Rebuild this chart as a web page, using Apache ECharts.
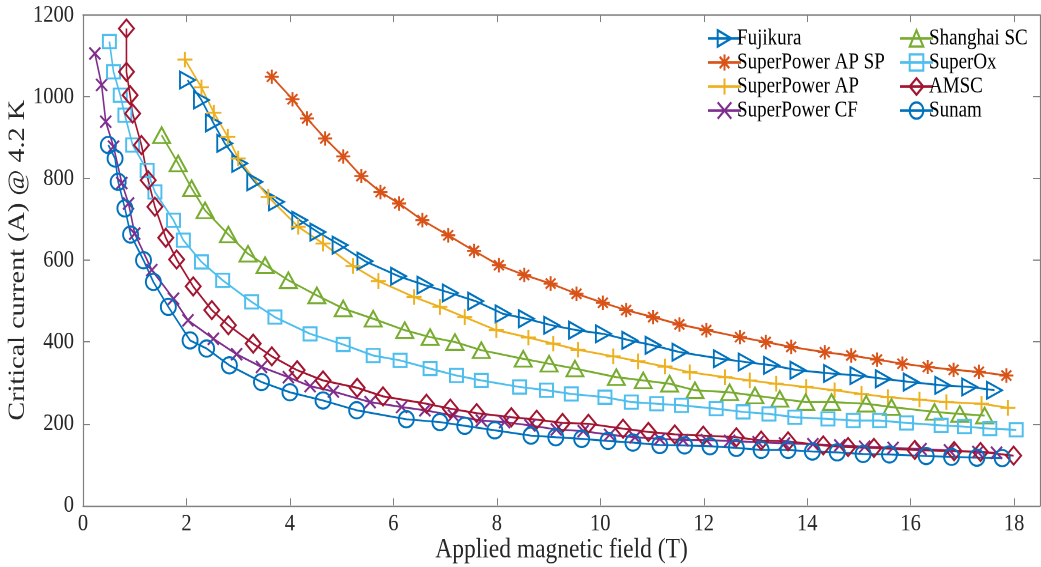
<!DOCTYPE html>
<html>
<head>
<meta charset="utf-8">
<script src="https://cdn.jsdelivr.net/npm/echarts@6/dist/echarts.min.js"></script>
<style>
  html, body { margin: 0; padding: 0; background: #fff; width: 1041px; height: 567px; }
  /* the original figure is stretched vertically by ~1.2, so draw at 1/1.2 height and scale up */
  #chart { width: 1041px; height: 472.5px; transform: scaleY(1.2); transform-origin: 0 0; }
</style>
</head>
<body>
<div id="chart"></div>
<script>
// data: [field (T), Ic (A)]
var fujikura = [[2.02,1041],[2.29,992],[2.52,936],[2.74,886],[3.03,837],[3.32,792],[3.74,743],[4.19,698],[4.54,669],[4.97,637],[5.45,598],[6.1,561],[6.61,539],[7.1,520],[7.59,500],[8.12,469],[8.57,457],[9.06,441],[9.54,429],[10.06,420],[10.57,404],[11.02,392],[11.54,375],[12.34,359],[12.82,351],[13.31,343],[13.82,331],[14.47,323],[14.98,318],[15.47,310],[16.01,302],[16.62,294],[17.14,290],[17.62,282]];
var apsp = [[3.65,1049],[4.05,994],[4.33,947],[4.68,898],[5.03,854],[5.38,806],[5.75,767],[6.11,739],[6.56,698],[7.06,661],[7.56,623],[8.04,588],[8.53,564],[9.04,543],[9.54,518],[10.05,496],[10.5,478],[11.02,461],[11.53,443],[12.05,429],[12.7,412],[13.2,400],[13.69,388],[14.34,375],[14.85,367],[15.35,357],[15.84,347],[16.33,339],[16.83,332],[17.32,327],[17.85,318]];
var ap = [[1.97,1091],[2.29,1023],[2.53,961],[2.8,902],[3.0,849],[3.58,755],[4.16,682],[4.64,641],[5.22,586],[5.71,549],[6.4,510],[6.9,486],[7.38,461],[7.99,429],[8.61,411],[9.09,396],[9.57,381],[10.25,365],[10.73,353],[11.25,340],[11.73,326],[12.41,314],[12.89,306],[13.4,298],[13.98,290],[14.53,282],[15.05,273],[15.56,265],[16.17,259],[16.69,253],[17.37,249],[17.88,239]];
var cf = [[0.23,1106],[0.36,1029],[0.44,939],[0.59,878],[0.75,789],[0.88,739],[1.0,665],[1.33,576],[1.75,506],[2.03,453],[2.52,408],[2.97,370],[3.45,339],[3.97,314],[4.39,292],[4.84,279],[5.55,253],[6.16,241],[6.61,233],[7.16,220],[7.7,208],[8.15,204],[8.64,196],[9.15,186],[9.67,182],[10.18,173],[10.67,167],[11.15,163],[11.6,160],[12.05,160],[12.5,158],[13.05,155],[13.56,152],[14.11,150],[14.63,147],[15.11,144],[15.66,141],[16.2,138],[16.75,135],[17.3,131],[17.66,129]];
var shanghai = [[1.52,906],[1.84,837],[2.1,776],[2.36,722],[2.81,663],[3.19,616],[3.52,588],[3.97,551],[4.52,514],[5.03,482],[5.61,457],[6.22,429],[6.71,412],[7.19,400],[7.7,380],[8.51,359],[9.01,347],[9.51,335],[10.31,314],[10.83,306],[11.34,298],[11.83,282],[12.5,277],[12.99,269],[13.47,261],[13.97,253],[14.47,253],[15.14,249],[15.63,241],[16.46,229],[16.95,224],[17.43,220]];
var superox = [[0.51,1135],[0.59,1061],[0.72,1004],[0.81,955],[0.96,882],[1.24,820],[1.39,767],[1.75,698],[1.94,649],[2.29,596],[2.7,551],[3.26,498],[3.71,461],[4.39,420],[5.03,394],[5.61,367],[6.13,355],[6.71,335],[7.22,318],[7.7,306],[8.44,290],[8.96,282],[9.44,273],[10.09,265],[10.6,253],[11.09,249],[11.57,245],[12.24,237],[12.76,229],[13.26,224],[13.76,216],[14.4,212],[14.89,208],[15.4,208],[15.92,202],[16.59,196],[17.04,193],[17.53,188],[18.04,185]];
var amsc = [[0.84,1167],[0.84,1061],[0.91,1004],[0.96,959],[1.13,882],[1.26,796],[1.39,731],[1.6,655],[1.81,602],[2.13,536],[2.49,478],[2.81,441],[3.29,396],[3.65,365],[4.14,331],[4.64,306],[5.3,288],[5.8,267],[6.64,249],[7.1,237],[7.61,226],[8.28,216],[8.77,210],[9.27,202],[9.77,200],[10.44,188],[10.93,180],[11.44,174],[11.99,171],[12.63,167],[13.11,159],[13.63,157],[14.31,147],[14.79,143],[15.29,141],[16.08,136],[16.84,133],[17.35,131],[17.99,122]];
var sunam = [[0.49,882],[0.62,849],[0.68,792],[0.81,727],[0.92,663],[1.17,600],[1.36,547],[1.65,486],[2.07,404],[2.39,384],[2.83,343],[3.45,302],[4.0,277],[4.64,257],[5.29,233],[6.25,211],[6.9,204],[7.38,195],[7.96,184],[8.66,171],[9.14,167],[9.64,163],[10.15,158],[10.63,154],[11.15,148],[11.63,147],[12.12,145],[12.63,141],[13.11,136],[13.63,136],[14.1,132],[14.58,130],[15.08,126],[15.59,125],[16.3,121],[16.79,119],[17.28,117],[17.77,116]];

var xTicks = [0, 2, 4, 6, 8, 10, 12, 14, 16, 18];

var font = 'Liberation Serif';
var axisGray = '#808080';
var textDark = '#262626';

var SYM = {
  triRight: 'path://M0,0L10,5L0,10Z',
  triUp: 'path://M5,0L10,9L0,9Z',
  diamond: 'path://M5,0L10,7L5,14L0,7Z',
  square: 'path://M0,0L10,0L10,10L0,10Z',
  plus: 'path://M5,0L5,10M0,5L10,5',
  cross: 'path://M0,0L10,10M10,0L0,10',
  star: 'path://M5,0L5,10M0,5L10,5M1.5,1.5L8.5,8.5M8.5,1.5L1.5,8.5'
};

function makeSeries(name, data, color, symbol, size) {
  return {
    name: name,
    type: 'line',
    data: data,
    color: color,
    symbol: symbol,
    symbolSize: size,
    showAllSymbol: true,
    lineStyle: { color: color, width: 1.6 },
    itemStyle: { color: 'rgba(0,0,0,0)', borderColor: color, borderWidth: 1.8 },
    emphasis: { disabled: true },
    animation: false
  };
}

var chart = echarts.init(document.getElementById('chart'), null, { devicePixelRatio: 2, width: 1041, height: 472.5 });

var legendText = { fontFamily: font, fontSize: 19, lineHeight: 18, color: '#000', padding: [0, 0, 0, -9] };

var option = {
  backgroundColor: '#fff',
  animation: false,
  textStyle: { fontFamily: font },
  grid: { left: 83, right: 1, top: 12.5, bottom: 51.7, outerBoundsMode: 'none', containLabel: false },
  legend: [
    {
      left: 702, top: 17.5, orient: 'vertical', itemWidth: 33, itemHeight: 17, itemGap: 1,
      textStyle: legendText,
      data: ['Fujikura', 'SuperPower AP SP', 'SuperPower AP', 'SuperPower CF']
    },
    {
      left: 894, top: 17.5, orient: 'vertical', itemWidth: 33, itemHeight: 17, itemGap: 1,
      textStyle: legendText,
      data: ['Shanghai SC', 'SuperOx', 'AMSC', 'Sunam']
    }
  ],
  xAxis: [
    {
      type: 'value', min: 0, max: 18.5, interval: 2,
      name: 'Applied magnetic field (T)', nameLocation: 'middle', nameGap: 25, nameMoveOverlap: false,
      nameTextStyle: { fontFamily: font, fontSize: 23.5, color: textDark },
      axisLine: { onZero: false, lineStyle: { color: axisGray, width: 1.2 } },
      axisTick: { inside: true, length: 6, lineStyle: { color: axisGray } },
      axisLabel: { fontFamily: font, fontSize: 20.5, color: textDark, margin: 5, showMaxLabel: false,
        formatter: function (v) { return xTicks.indexOf(v) >= 0 ? String(v) : ''; } },
      splitLine: { show: false }
    },
    {
      type: 'value', min: 0, max: 18.5, interval: 2, position: 'top',
      axisLine: { onZero: false, lineStyle: { color: axisGray, width: 1.2 } },
      axisTick: { inside: true, length: 6, lineStyle: { color: axisGray } },
      axisLabel: { show: false },
      splitLine: { show: false }
    }
  ],
  yAxis: [
    {
      type: 'value', min: 0, max: 1200, interval: 200,
      name: 'Critical current (A) @ 4.2 K', nameLocation: 'middle', nameGap: 53, nameMoveOverlap: false,
      nameTextStyle: { fontFamily: font, fontSize: 23.5, color: textDark },
      axisLine: { show: true, onZero: false, lineStyle: { color: axisGray, width: 1.2 } },
      axisTick: { show: true, inside: true, length: 7, lineStyle: { color: axisGray } },
      axisLabel: { fontFamily: font, fontSize: 20.5, color: textDark, margin: 9,
        formatter: function (v) { return String(v); } },
      splitLine: { show: false }
    },
    {
      type: 'value', min: 0, max: 1200, interval: 200, position: 'right',
      axisLine: { show: true, onZero: false, lineStyle: { color: axisGray, width: 1.2 } },
      axisTick: { show: true, inside: true, length: 7, lineStyle: { color: axisGray } },
      axisLabel: { show: false },
      splitLine: { show: false }
    }
  ],
  series: [
    makeSeries('Fujikura', fujikura, '#0072BD', SYM.triRight, [15, 14]),
    makeSeries('SuperPower AP SP', apsp, '#D95319', SYM.star, [14, 12]),
    makeSeries('SuperPower AP', ap, '#EDB120', SYM.plus, [15, 13]),
    makeSeries('SuperPower CF', cf, '#7E2F8E', SYM.cross, [11, 10]),
    makeSeries('Shanghai SC', shanghai, '#77AC30', SYM.triUp, [17, 13]),
    makeSeries('SuperOx', superox, '#4DBEEE', SYM.square, [13, 11]),
    makeSeries('AMSC', amsc, '#A2142F', SYM.diamond, [15, 15]),
    makeSeries('Sunam', sunam, '#0072BD', 'circle', [15, 13.5])
  ]
};

chart.setOption(option);
</script>
</body>
</html>
